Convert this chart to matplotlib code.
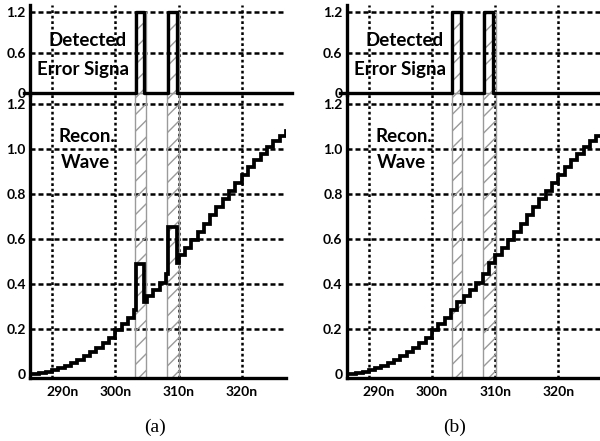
import matplotlib
matplotlib.use("Agg")
import matplotlib.pyplot as plt
import matplotlib.transforms as mtransforms
import numpy as np

# ---------------- data ----------------
step_t = [286, 287, 288, 289, 290, 291, 292, 293, 294, 295, 296, 297, 298, 299,
          300, 301, 302, 303, 304, 305, 306, 307, 308, 309, 310, 311, 312, 313,
          314, 315, 316, 317, 318, 319, 320, 321, 322, 323, 324, 325, 326, 327]
step_v = [0.000, 0.002, 0.006, 0.010, 0.016, 0.025, 0.036, 0.048, 0.062, 0.078,
          0.096, 0.115, 0.136, 0.160, 0.195, 0.222, 0.250, 0.285, 0.318, 0.345,
          0.372, 0.405, 0.445, 0.495, 0.530, 0.560, 0.595, 0.630, 0.667, 0.705,
          0.742, 0.778, 0.815, 0.850, 0.885, 0.918, 0.950, 0.980, 1.008, 1.035,
          1.058, 1.080]

# detected error pulses (start, end, level) -> glitches in (a)
pulse_start = [303.2, 308.3]
pulse_end = [304.6, 309.7]
pulse_level = 1.2
glitch_value = [0.487, 0.655]

# hatched error windows
band_start = [303.1, 308.1]
band_end = [304.8, 310.05]

x_ticks = [290, 300, 310, 320]
x_labels = ["290n", "300n", "310n", "320n"]
top_ticks = [0, 0.6, 1.2]
top_labels = ["0", "0.6", "1.2"]
bot_ticks = [0, 0.2, 0.4, 0.6, 0.8, 1.0, 1.2]
bot_labels = ["0", "0.2", "0.4", "0.6", "0.8", "1.0", "1.2"]
captions = ["(a)", "(b)"]

XLIM = (286.5, 327.0)

# ---------------- helpers ----------------
def base_value(t):
    idx = np.searchsorted(step_t, t, side="right") - 1
    idx = max(0, min(idx, len(step_v) - 1))
    return step_v[idx]


def series(with_glitch):
    edges = list(step_t)
    if with_glitch:
        edges = sorted(set(edges) | set(pulse_start) | set(pulse_end))
    vals = []
    for e in edges:
        v = base_value(e)
        if with_glitch:
            for s, en, g in zip(pulse_start, pulse_end, glitch_value):
                if s <= e < en:
                    v = g
        vals.append(v)
    edges.append(XLIM[1] + 1)
    vals.append(vals[-1])
    return edges, vals


def signal():
    t = [XLIM[0] - 1]
    v = [0]
    for s, e in zip(pulse_start, pulse_end):
        t += [s, e]
        v += [pulse_level, 0]
    t.append(XLIM[1] + 1)
    v.append(0)
    return t, v


FONT = "Lato"
TICK_FS = 10
lab_font = dict(family=FONT, weight="bold", size=TICK_FS)
ANN_FS = 13.5

fig = plt.figure(figsize=(6, 4.41), dpi=100)
W, H = 600.0, 441.0

panels = [30.0, 346.7]
ax_w = 256.0

for pi, x0 in enumerate(panels):
    left = x0 / W
    width = ax_w / W
    # bottom panel 93 -> 378 px
    axb = fig.add_axes([left, 1 - 378 / H, width, (378 - 93) / H])
    # top panel 5 -> 95 px
    axt = fig.add_axes([left, 1 - 95 / H, width, (95 - 5) / H])

    for ax in (axb, axt):
        ax.set_facecolor("none")
        ax.set_xlim(*XLIM)
        for sp in ("top", "right"):
            ax.spines[sp].set_visible(False)
        ax.spines["left"].set_linewidth(2.4)
        ax.tick_params(length=0)
        for xv in x_ticks:
            ax.axvline(xv, color="black", lw=1.8, ls=(0, (1.1, 1.1)), zorder=1)

    axb.set_ylim(-0.0178, 1.2489)
    axt.set_ylim(-0.0296, 1.3037)
    axt.spines["bottom"].set_visible(False)
    axb.spines["bottom"].set_linewidth(2.4)

    for yv in bot_ticks[1:]:
        axb.axhline(yv, color="black", lw=1.8, ls=(0, (2.0, 1.2)), zorder=1)
    for yv in top_ticks[1:]:
        axt.axhline(yv, color="black", lw=1.8, ls=(0, (2.0, 1.2)), zorder=1)

    # hatched bands
    for s, e in zip(band_start, band_end):
        axb.fill_between([s, e], -0.0178, 1.2489, facecolor="none",
                         edgecolor="#9a9a9a", hatch="//", lw=1.0, zorder=2)
        axt.fill_between([s, e], 0, pulse_level, facecolor="none",
                         edgecolor="#9a9a9a", hatch="//", lw=1.0, zorder=2)

    # signals
    st, sv = signal()
    axt.step(st, sv, where="post", color="black", lw=2.4, zorder=4,
             clip_on=False)
    wt, wv = series(pi == 0)
    axb.step(wt, wv, where="post", color="black", lw=2.7, zorder=4,
             solid_joinstyle="miter")

    # ticks
    axb.set_xticks(x_ticks)
    axb.set_xticklabels(x_labels, fontdict=lab_font)
    axb.tick_params(axis="x", pad=6)
    axt.set_xticks([])
    axb.set_yticks(bot_ticks)
    axb.set_yticklabels(bot_labels, fontdict=lab_font)
    axt.set_yticks(top_ticks)
    axt.set_yticklabels(top_labels, fontdict=lab_font)
    axb.tick_params(axis="y", pad=3)
    axt.tick_params(axis="y", pad=3)
    # first x label sits right of its gridline
    lbl = axb.get_xticklabels()[0]
    lbl.set_transform(lbl.get_transform() +
                      mtransforms.ScaledTranslation(10 / 100, 0, fig.dpi_scale_trans))

    # annotations
    axt.text((88 - 30) / ax_w, (95 - 40) / 90, "Detected", transform=axt.transAxes,
             ha="center", va="center", family=FONT, weight="bold", size=ANN_FS,
             zorder=3)
    axt.text((83 - 30) / ax_w, (95 - 69) / 90, "Error Signa",
             transform=axt.transAxes, ha="center", va="center",
             family=FONT, weight="bold", size=ANN_FS, zorder=3)
    axb.text((87 - 30) / ax_w, (378 - 137) / 285, "Recon.",
             transform=axb.transAxes, ha="center", va="center",
             family=FONT, weight="bold", size=ANN_FS, zorder=3)
    axb.text((85 - 30) / ax_w, (378 - 163) / 285, "Wave",
             transform=axb.transAxes, ha="center", va="center",
             family=FONT, weight="bold", size=ANN_FS, zorder=3)

fig.text(155 / W, 1 - 427 / H, captions[0], ha="center", va="center",
         family="Liberation Serif", size=14)
fig.text(455 / W, 1 - 427 / H, captions[1], ha="center", va="center",
         family="Liberation Serif", size=14)

fig.savefig("out.png", dpi=100)
